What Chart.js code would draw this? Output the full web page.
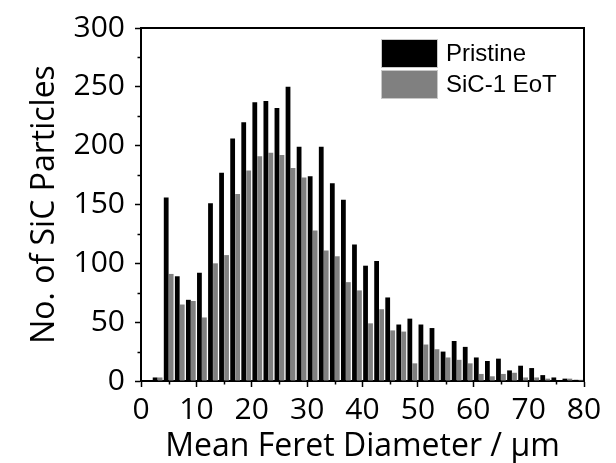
<!DOCTYPE html>
<html>
<head>
<meta charset="utf-8">
<script src="https://cdn.jsdelivr.net/npm/chart.js@4/dist/chart.umd.min.js"></script>
<style>
  body { margin: 0; background: #fff; }
  #wrap { width: 616px; height: 463px; }
</style>
</head>
<body>
<div id="wrap"><canvas id="hist"></canvas></div>
<script>
// bin centres (2 µm bins)
const binCentres = [3, 5, 7, 9, 11, 13, 15, 17, 19, 21, 23, 25, 27, 29, 31, 33, 35, 37, 39,
    41, 43, 45, 47, 49, 51, 53, 55, 57, 59, 61, 63, 65, 67, 69, 71, 73, 75, 77, 79];

// particle counts per bin
const pristine = [3, 156, 89, 69, 92, 151, 177, 206, 220, 237, 238, 232, 250, 199, 174, 199, 168, 154, 116,
    98, 102, 71, 48, 53, 48, 45, 25, 34, 29, 20, 17, 19, 9, 13, 11, 5, 3, 2, 1];
const sic1EoT = [3, 91, 65, 68, 54, 100, 107, 159, 179, 191, 194, 192, 181, 173, 128, 111, 106, 84, 77,
    49, 61, 43, 42, 15, 31, 27, 20, 18, 15, 6, 4, 6, 7, 3, 3, 2, 0, 2, 1];

const xTicks = [0, 10, 20, 30, 40, 50, 60, 70, 80];
const yTicks = [0, 50, 100, 150, 200, 250, 300];

const seriesNames = ['Pristine', 'SiC-1 EoT'];
const seriesColors = ['#000000', '#808080'];

const toPoints = arr => arr.map((v, i) => ({ x: binCentres[i], y: v }));

// minor ticks, top/right frame and the legend box
const framePlugin = {
    id: 'frame',
    afterDraw(chart) {
        const ctx = chart.ctx;
        const a = chart.chartArea;
        const xs = chart.scales.x, ys = chart.scales.y;
        ctx.save();
        ctx.strokeStyle = '#000';
        ctx.lineWidth = 2;
        ctx.beginPath();
        ctx.moveTo(a.left, a.top);
        ctx.lineTo(a.right, a.top);
        ctx.lineTo(a.right, a.bottom);
        ctx.stroke();

        ctx.lineWidth = 1.5;
        ctx.beginPath();
        for (let v = 25; v < 300; v += 50) {
            const y = Math.round(ys.getPixelForValue(v)) + 0.5;
            ctx.moveTo(a.left - 3.5, y);
            ctx.lineTo(a.left, y);
        }
        for (let v = 5; v < 80; v += 10) {
            const x = Math.round(xs.getPixelForValue(v)) + 0.5;
            ctx.moveTo(x, a.bottom);
            ctx.lineTo(x, a.bottom + 3.5);
        }
        ctx.stroke();

        // legend
        ctx.font = '24px "Liberation Sans", Arial, sans-serif';
        ctx.textBaseline = 'middle';
        ctx.textAlign = 'left';
        const boxTops = [40, 71];
        for (let i = 0; i < seriesNames.length; i++) {
            ctx.fillStyle = seriesColors[i];
            ctx.fillRect(382, boxTops[i], 55, 27);
            ctx.strokeStyle = '#c8c8c8';
            ctx.lineWidth = 1;
            ctx.strokeRect(381.5, boxTops[i] - 0.5, 56, 28);
            ctx.fillStyle = '#000';
            ctx.fillText(seriesNames[i], 446, boxTops[i] + 14);
        }
        ctx.restore();
    }
};

const tickFont = { family: '"Open Sans", "Noto Sans", sans-serif', size: 30 };
const titleFont = { family: '"Open Sans", "Noto Sans", sans-serif', size: 32, lineHeight: 1 };

new Chart(document.getElementById('hist'), {
    type: 'bar',
    data: {
        datasets: [
            { label: seriesNames[0], data: toPoints(pristine), backgroundColor: seriesColors[0] },
            { label: seriesNames[1], data: toPoints(sic1EoT), backgroundColor: seriesColors[1] }
        ]
    },
    options: {
        responsive: true,
        maintainAspectRatio: false,
        animation: false,
        devicePixelRatio: 1,
        layout: { padding: { top: 23, right: 32, left: 0, bottom: 0 } },
        datasets: {
            bar: {
                categoryPercentage: 0.9,
                barPercentage: 0.96,
                borderWidth: 0
            }
        },
        plugins: {
            legend: { display: false },
            tooltip: { enabled: false }
        },
        scales: {
            x: {
                type: 'linear',
                min: 0,
                max: 80,
                offset: false,
                afterFit: s => { s.height = 82; },
                afterBuildTicks: s => { s.ticks = xTicks.map(v => ({ value: v })); },
                grid: { drawOnChartArea: false, offset: false, tickLength: 6, tickWidth: 1.5, tickColor: '#000' },
                border: { color: '#000', width: 2 },
                ticks: { color: '#000', font: tickFont, padding: 5, maxRotation: 0 },
                title: { display: true, text: 'Mean Feret Diameter / µm', color: '#000', font: titleFont, padding: { top: 0, bottom: 0 } }
            },
            y: {
                min: 0,
                max: 300,
                afterFit: s => { s.width = 141; },
                afterBuildTicks: s => { s.ticks = yTicks.map(v => ({ value: v })); },
                grid: { drawOnChartArea: false, tickLength: 6, tickWidth: 1.5, tickColor: '#000' },
                border: { color: '#000', width: 2 },
                ticks: { color: '#000', font: tickFont, padding: 10 },
                title: { display: true, text: 'No. of SiC Particles', color: '#000', font: titleFont, padding: { top: 29, bottom: 0 } }
            }
        }
    },
    plugins: [framePlugin]
});
</script>
</body>
</html>
